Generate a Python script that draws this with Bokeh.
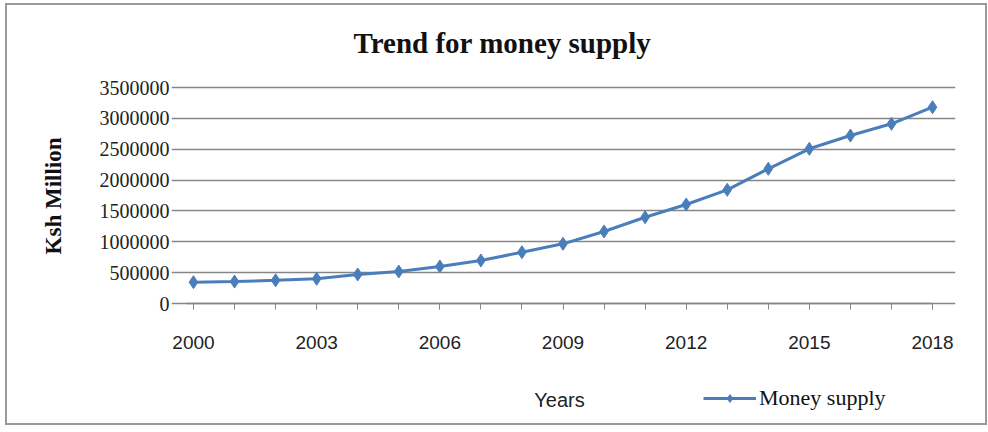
from bokeh.plotting import figure
from bokeh.models import FixedTicker, Legend, LegendItem, ColumnDataSource, LinearAxis, Title
from bokeh.embed import file_html
from bokeh.resources import INLINE

years = list(range(2000, 2019))
money_supply = [345000, 355000, 375000, 400000, 470000, 518000, 600000, 697000,
                831000, 967000, 1167000, 1398000, 1604000, 1842000, 2182000,
                2507000, 2722000, 2912000, 3181000]
x_tick_years = [2000, 2003, 2006, 2009, 2012, 2015, 2018]
y_ticks = [0, 500000, 1000000, 1500000, 2000000, 2500000, 3000000, 3500000]

title_text = "Trend for money supply"
y_label = "Ksh Million"
x_label = "Years"
series_name = "Money supply"

BLUE = "#4a7ebb"
GRID = "#868686"

# ---- layout constants (canvas pixels) ----
W, H = 982, 422
FL, FR, FT, FB = 163, 34, 61, 0
frame_w = W - FL - FR
frame_h = H - FT - FB
X0_PX, X1_PX = 185, 925          # where the first and last year sit
Y0_PX, Y1_PX = 298, 82           # where 0 and 3500000 sit
AXIS_LEFT_PX = 178               # left end of the x axis line
px_per_year = (X1_PX - X0_PX) / (years[-1] - years[0])
XMIN = years[0] - (X0_PX - FL) / px_per_year
XMAX = years[-1] + (FL + frame_w - X1_PX) / px_per_year
X_AXIS_START = years[0] - (X0_PX - AXIS_LEFT_PX) / px_per_year
val_per_px = (y_ticks[-1] - y_ticks[0]) / (Y0_PX - Y1_PX)
YMAX = y_ticks[-1] + (Y1_PX - FT) * val_per_px
YMIN = y_ticks[0] - (FT + frame_h - Y0_PX) * val_per_px
Y_TITLE_TOP_PX = 132             # where the top end of the rotated y title sits

p = figure(width=W, height=H, output_backend="svg", toolbar_location=None,
           x_range=(XMIN, XMAX), y_range=(YMIN, YMAX), x_axis_location=None,
           min_border_left=FL, min_border_right=FR, min_border_top=FT, min_border_bottom=FB)
p.styles = {"border": "2px solid #9a9a9a", "margin-left": "5px", "margin-top": "3px"}
p.outline_line_color = None
p.background_fill_color = "white"
p.border_fill_color = "white"

src = ColumnDataSource(dict(x=years, y=money_supply))
ln = p.line("x", "y", source=src, line_color=BLUE, line_width=3)
mk = p.scatter("x", "y", source=src, marker="diamond", size=13, fill_color=BLUE, line_color=BLUE)

# x axis pinned at y = 0, labels hanging below the axis line
xa = LinearAxis(fixed_location=0, bounds=(X_AXIS_START, years[-1]))
xa.ticker = FixedTicker(ticks=x_tick_years, minor_ticks=years)
xa.axis_line_color = GRID
xa.axis_line_width = 1.5
xa.major_tick_line_color = GRID
xa.minor_tick_line_color = GRID
xa.major_tick_in = 6
xa.major_tick_out = 0
xa.minor_tick_in = 6
xa.minor_tick_out = 0
xa.major_label_standoff = -45
xa.major_label_text_font = "Liberation Sans"
xa.major_label_text_font_size = "19px"
xa.major_label_text_color = "#222222"
xa.axis_label = x_label
xa.axis_label_text_font = "Liberation Sans"
xa.axis_label_text_font_style = "normal"
xa.axis_label_text_font_size = "20px"
xa.axis_label_standoff = -37
xa.axis_label_text_color = "#222222"
p.add_layout(xa, "above")

p.title.text = title_text
p.title.align = "left"
p.title.offset = 182
p.title.standoff = 16
p.title.text_font = "Liberation Serif"
p.title.text_font_style = "bold"
p.title.text_font_size = "29px"
p.title.text_color = "#111111"

p.yaxis.ticker = FixedTicker(ticks=y_ticks)
p.yaxis.axis_line_color = None
p.yaxis.major_tick_line_color = None
p.yaxis.minor_tick_line_color = None
p.yaxis.major_tick_out = 0
p.yaxis.major_tick_in = 0
p.yaxis.major_label_standoff = 2
p.yaxis.major_label_text_font = "Liberation Serif"
p.yaxis.major_label_text_font_size = "20px"
p.yaxis.major_label_text_color = "#222222"
p.yaxis.formatter.use_scientific = False

# y axis title (rotated), placed on the value span rather than the whole frame
p.add_layout(Title(text=y_label, align="right", offset=Y_TITLE_TOP_PX - FT, standoff=62,
                   text_font="Liberation Serif", text_font_style="bold",
                   text_font_size="23px", text_color="#111111"), "left")

p.xgrid.grid_line_color = None
p.ygrid.grid_line_color = GRID
p.ygrid.grid_line_width = 1.5

legend = Legend(items=[LegendItem(label=series_name, renderers=[ln, mk])],
                location=(532, 16), orientation="horizontal",
                glyph_width=53, glyph_height=20, label_standoff=3,
                padding=0, margin=0, spacing=0,
                border_line_color=None, background_fill_alpha=0,
                label_text_font="Liberation Serif", label_text_font_size="22px",
                label_text_color="#111111")
p.add_layout(legend, "center")

open("out.html", "w").write(file_html(p, INLINE))
